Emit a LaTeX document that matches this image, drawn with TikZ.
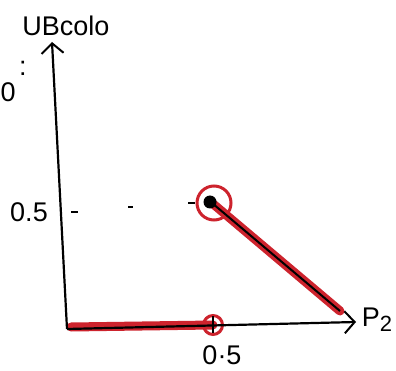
\documentclass[tikz,border=0pt]{standalone}
\usepackage{fontspec}
\setmainfont{Liberation Sans}
\usetikzlibrary{arrows.meta}
\definecolor{hred}{RGB}{205,35,45}
\tikzset{
  axis/.style={line width=2.2pt, -{Straight Barb[length=10pt,width=22pt,line width=2pt]}},
  hilite/.style={hred, line width=9pt, line cap=round},
  ink/.style={black, line width=2pt},
  lbl/.style={inner sep=0pt, font=\fontsize{27}{29}\selectfont},
  tickmark/.style={black, line width=1.8pt},
}
\begin{document}
\begin{tikzpicture}[x=1pt,y=-1pt]
\useasboundingbox (0,0) rectangle (396,371);
% key points
\coordinate (O) at (67,329);
\coordinate (ytip) at (52,42);
\coordinate (xtip) at (356,322);
\coordinate (xh) at (213,325);
\coordinate (P) at (212,203);
\coordinate (Q) at (340,311);
% red highlights
\draw[hilite] (71,327) -- (xh);
\draw[hilite] (P) -- (Q);
\node[draw=hred, line width=3pt, circle, minimum size=34pt, inner sep=0pt] (pc) at (214,203) {};
\node[draw=hred, line width=3pt, circle, minimum size=19pt, inner sep=0pt] (xc) at (213,325) {};
% axes
\draw[axis] (O) -- (ytip);
\draw[axis] (O) -- (xtip);
% black line over highlight
\draw[ink] (P) -- (Q);
\node[fill=black, circle, minimum size=13pt, inner sep=0pt] (pt) at (210,202) {};
% ticks
\draw[tickmark] (213,316) -- (213,333);
\draw[tickmark] (71,212) -- (78,212);
\draw[tickmark] (128,207) -- (133,207);
\draw[tickmark] (188,203) -- (195,203);
% labels
\node[lbl] (ylab) at (66,26) {UBcolo};
\node[lbl] (xlab) at (377,320) {P\raisebox{-5pt}{\fontsize{22}{22}\selectfont 2}};
\node[lbl] (y05) at (29,212) {0.5};
\node[lbl] (x05) at (222,355) {0·5};
\node[lbl, anchor=west] (cut0) at (0.5,92) {0};
\node[lbl] (colon) at (23,68) {:};
\end{tikzpicture}
\end{document}
